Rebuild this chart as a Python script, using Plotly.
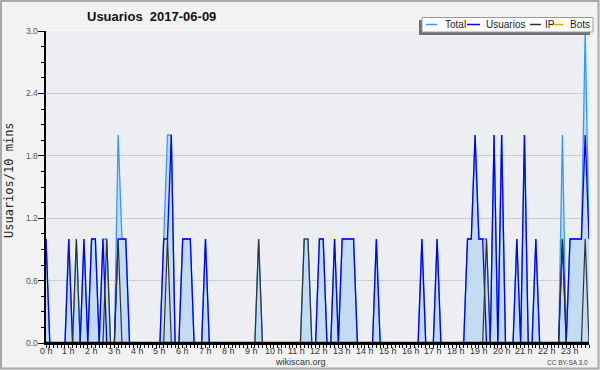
import pandas as pd
import plotly.graph_objects as go

# ---------------- data (10-minute slots, 2017-06-09) ----------------
day = "2017-06-09"
times = pd.date_range(f"{day} 00:00", periods=144, freq="10min")

total = [
    1, 0, 0, 0, 0, 0,   1, 0, 1, 0, 1, 0,   1, 1, 0, 1, 1, 0,   0, 2, 1, 1, 0, 0,
    0, 0, 0, 0, 0, 0,   0, 1, 2, 2, 0, 0,   1, 1, 1, 0, 0, 0,   1, 0, 0, 0, 0, 0,
    0, 0, 0, 0, 0, 0,   0, 0, 1, 0, 0, 0,   0, 0, 0, 0, 0, 0,   0, 0, 1, 1, 0, 0,
    1, 1, 0, 0, 1, 0,   1, 1, 1, 1, 0, 0,   0, 0, 0, 1, 0, 0,   0, 0, 0, 0, 0, 0,
    0, 0, 0, 1, 0, 0,   0, 1, 0, 0, 0, 0,   0, 0, 0, 1, 1, 2,   1, 1, 1, 0, 2, 0,
    2, 0, 0, 0, 1, 0,   2, 0, 0, 1, 0, 0,   0, 0, 0, 0, 2, 0,   1, 1, 1, 1, 3, 1,
]
usuarios = [
    1, 0, 0, 0, 0, 0,   1, 0, 0, 0, 1, 0,   1, 1, 0, 1, 0, 0,   0, 1, 1, 1, 0, 0,
    0, 0, 0, 0, 0, 0,   0, 1, 1, 2, 0, 0,   1, 1, 1, 0, 0, 0,   1, 0, 0, 0, 0, 0,
    0, 0, 0, 0, 0, 0,   0, 0, 0, 0, 0, 0,   0, 0, 0, 0, 0, 0,   0, 0, 0, 0, 0, 0,
    1, 1, 0, 0, 1, 0,   1, 1, 1, 1, 0, 0,   0, 0, 0, 1, 0, 0,   0, 0, 0, 0, 0, 0,
    0, 0, 0, 1, 0, 0,   0, 1, 0, 0, 0, 0,   0, 0, 0, 1, 1, 2,   1, 1, 0, 0, 2, 0,
    2, 0, 0, 0, 1, 0,   2, 0, 0, 1, 0, 0,   0, 0, 0, 0, 1, 0,   1, 1, 1, 1, 2, 1,
]
ip = [
    0, 0, 0, 0, 0, 0,   0, 0, 1, 0, 0, 0,   0, 0, 0, 0, 1, 0,   0, 1, 0, 0, 0, 0,
    0, 0, 0, 0, 0, 0,   0, 0, 1, 0, 0, 0,   0, 0, 0, 0, 0, 0,   0, 0, 0, 0, 0, 0,
    0, 0, 0, 0, 0, 0,   0, 0, 1, 0, 0, 0,   0, 0, 0, 0, 0, 0,   0, 0, 1, 1, 0, 0,
    0, 0, 0, 0, 0, 0,   0, 0, 0, 0, 0, 0,   0, 0, 0, 0, 0, 0,   0, 0, 0, 0, 0, 0,
    0, 0, 0, 0, 0, 0,   0, 0, 0, 0, 0, 0,   0, 0, 0, 0, 0, 0,   0, 0, 1, 0, 0, 0,
    0, 0, 0, 0, 0, 0,   0, 0, 0, 0, 0, 0,   0, 0, 0, 0, 1, 0,   0, 0, 0, 0, 1, 0,
]
bots = [0] * 144

series_names = ["Total", "Usuarios", "IP", "Bots"]
series_colors = ["#3399ff", "#0000ff", "#333333", "#ff9900"]

hours = list(range(24))
hour_labels = [f"{h} h" for h in hours]
hour_ticks = [pd.Timestamp(f"{day} {h:02d}:00") for h in hours]
y_ticks = [0.0, 0.6, 1.2, 1.8, 2.4, 3.0]

title_text = "Usuarios\u00a0 2017-06-09"
y_title = "Usuarios/10 mins"
footer_site = "wikiscan.org"
footer_lic = "CC BY-SA 3.0"

# ---------------- layout geometry ----------------
W, H = 600, 370
ML, MR, MT, MB = 46, 11, 31, 27
PW, PH = W - ML - MR, H - MT - MB


def px(x):
    return (x - ML) / PW


def py(y):
    return (H - MB - y) / PH


fig = go.Figure()

fig.add_trace(go.Scatter(x=times, y=bots, mode="lines", name="Bots",
                         line=dict(color=series_colors[3], width=1.2)))
fig.add_trace(go.Scatter(x=times, y=total, mode="lines", name="Total",
                         fill="tozeroy", fillcolor="#c4dcf1",
                         line=dict(color=series_colors[0], width=1.3)))
fig.add_trace(go.Scatter(x=times, y=usuarios, mode="lines", name="Usuarios",
                         line=dict(color=series_colors[1], width=1.3)))
fig.add_trace(go.Scatter(x=times, y=ip, mode="lines", name="IP",
                         line=dict(color=series_colors[2], width=1.2)))

fig.update_layout(
    width=W, height=H,
    margin=dict(l=ML, r=MR, t=MT, b=MB, pad=0, autoexpand=False),
    paper_bgcolor="#f2f2f2",
    plot_bgcolor="#eceef1",
    showlegend=False,
    font=dict(family="Liberation Sans, Arial, sans-serif", color="#333333"),
)

fig.update_xaxes(
    type="date",
    automargin=False,
    range=[times[0], times[-1]],
    tickvals=hour_ticks, showticklabels=False,
    ticks="outside", ticklen=3, tickwidth=1, tickcolor="#000000",
    showline=True, linecolor="#000000", linewidth=2,
    showgrid=False, zeroline=False,
    minor=dict(dtick=600000, ticks="outside", ticklen=3, tickwidth=1,
               tickcolor="#000000", showgrid=False),
    fixedrange=True,
)
fig.update_yaxes(
    automargin=False,
    range=[0, 3],
    tickvals=y_ticks, showticklabels=False,
    ticks="outside", ticklen=6, tickwidth=1, tickcolor="#000000",
    showline=True, linecolor="#000000", linewidth=2,
    showgrid=True, gridcolor="#cdcdcd", gridwidth=1,
    zeroline=False,
    minor=dict(tick0=0, dtick=0.15, ticks="outside", ticklen=3, tickwidth=1,
               tickcolor="#000000", showgrid=False),
    fixedrange=True,
)

shapes = []
annotations = []

# baseline drawn over the traces (hides the zero-valued line segments)
shapes.append(dict(type="line", xref="paper", yref="paper",
                   x0=0, x1=1, y0=0, y1=0,
                   line=dict(color="#000000", width=2.5), layer="above"))

# y tick labels
for v in y_ticks:
    annotations.append(dict(text=f"{v:.1f}", xref="paper", yref="y",
                            x=px(40), y=v, xanchor="right", yanchor="middle",
                            showarrow=False,
                            font=dict(size=8.5, color="#555555")))
# x tick labels (hours)
for t, lab in zip(hour_ticks, hour_labels):
    annotations.append(dict(text=lab, xref="x", yref="paper",
                            x=t, y=py(351.5), xanchor="center", yanchor="middle",
                            showarrow=False,
                            font=dict(size=9, color="#333333")))

# outer border of the image
shapes.append(dict(type="rect", xref="paper", yref="paper",
                   x0=px(1), x1=px(598.5), y0=py(368.5), y1=py(1),
                   line=dict(color="#a9a9a9", width=2), fillcolor="rgba(0,0,0,0)",
                   layer="above"))

# custom legend box with shadow
shapes.append(dict(type="rect", xref="paper", yref="paper",
                   x0=px(419), x1=px(590), y0=py(35), y1=py(20),
                   line=dict(width=0), fillcolor="#6f6f6f", layer="above"))
shapes.append(dict(type="rect", xref="paper", yref="paper",
                   x0=px(422), x1=px(593), y0=py(32), y1=py(17.5),
                   line=dict(color="#9a9a9a", width=1), fillcolor="#ffffff",
                   layer="above"))

legend_line_x = [(426, 437), (467, 480), (530, 541), (552, 563)]
legend_text_x = [442.5, 484, 542.5, 567.5]
for name, color, (lx0, lx1), tx in zip(series_names, series_colors,
                                       legend_line_x, legend_text_x):
    shapes.append(dict(type="line", xref="paper", yref="paper",
                       x0=px(lx0), x1=px(lx1), y0=py(24.5), y1=py(24.5),
                       line=dict(color=color, width=1.5), layer="above"))
    annotations.append(dict(text=name, xref="paper", yref="paper",
                            x=px(tx), y=py(24.7), xanchor="left", yanchor="middle",
                            showarrow=False,
                            font=dict(size=10, color="#222222")))

# title
annotations.append(dict(text=f"<b>{title_text}</b>", xref="paper", yref="paper",
                        x=px(151), y=py(16.5), xanchor="center", yanchor="middle",
                        showarrow=False,
                        font=dict(size=13, color="#111111",
                                  family="Liberation Sans, Arial, sans-serif")))
# y title
annotations.append(dict(text=y_title, xref="paper", yref="paper",
                        x=px(9), y=py(180), xanchor="center", yanchor="middle",
                        textangle=-90, showarrow=False,
                        font=dict(size=12, color="#222222",
                                  family="DejaVu Sans Mono, monospace")))
# footers
annotations.append(dict(text=footer_site, xref="paper", yref="paper",
                        x=px(300), y=py(361.5), xanchor="center", yanchor="middle",
                        showarrow=False, font=dict(size=9, color="#333333")))
annotations.append(dict(text=footer_lic, xref="paper", yref="paper",
                        x=px(589.5), y=py(362), xanchor="right", yanchor="middle",
                        showarrow=False, font=dict(size=6.5, color="#444444")))

fig.update_layout(shapes=shapes, annotations=annotations)

fig.write_html("out.html", config=dict(displayModeBar=False))
